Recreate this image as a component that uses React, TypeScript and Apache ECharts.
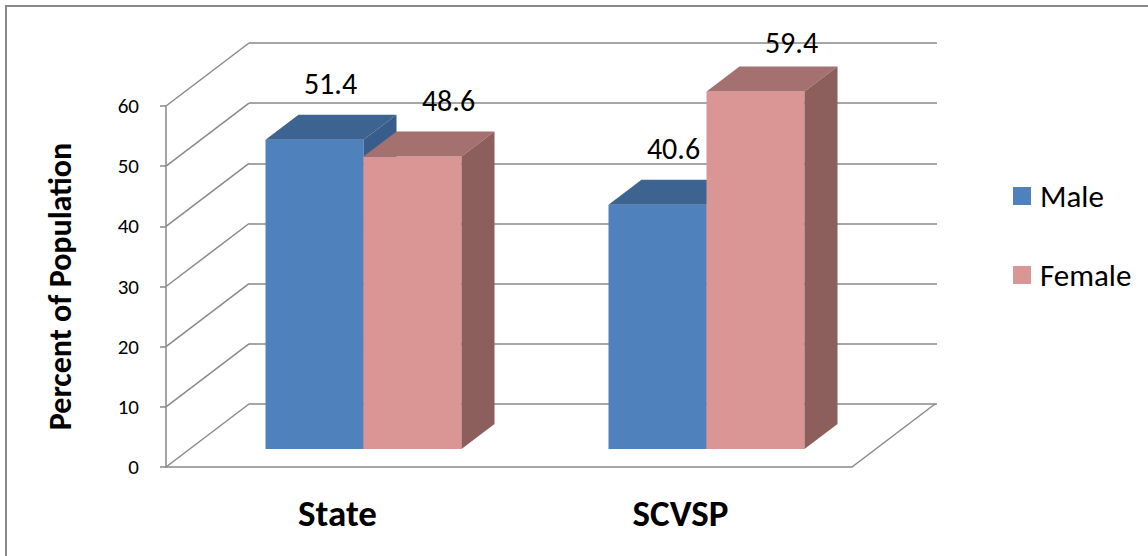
import React, { useEffect, useRef } from "react";
import * as echarts from "echarts";

const categories = ["State", "SCVSP"];
const maleValues = [51.4, 40.6];
const femaleValues = [48.6, 59.4];
const seriesNames = ["Male", "Female"];
const yMin = 0;
const yMax = 60;
const yInterval = 10;
const yTickValues = [0, 10, 20, 30, 40, 50, 60];

const FONT = "Carlito, Calibri, Lato, 'Open Sans', sans-serif";
const GRID_COLOR = "#898989";
const WALL_DEPTH = [83, -63];
const BAR_DEPTH = [33, -25];
const BAR_FRAC = 98 / 343;

const MALE = { front: "#4F81BD", top: "#3D6491", side: "#385D8A" };
const FEMALE = { front: "#D99694", top: "#A57170", side: "#8C5E5C" };

function barRenderer(side: number, colors: any, labelDx: number) {
  return (params: any, api: any) => {
    const idx = api.value(0);
    const v = api.value(1);
    const top = api.coord([idx, v]);
    const base = api.coord([idx, 0]);
    const catW = api.size([1, 0])[0];
    const bw = catW * BAR_FRAC;
    const x0 = side === 0 ? top[0] - bw : top[0];
    const x1 = x0 + bw;
    const yT = top[1];
    const yB = base[1];
    const dx = BAR_DEPTH[0];
    const dy = BAR_DEPTH[1];
    const labelY = Math.max(yT - 56, params.coordSys.y - 46);
    return {
      type: "group",
      children: [
        {
          type: "rect",
          shape: { x: x0, y: yT, width: bw, height: yB - yT },
          style: { fill: colors.front },
        },
        {
          type: "polygon",
          shape: { points: [[x0, yT], [x1, yT], [x1 + dx, yT + dy], [x0 + dx, yT + dy]] },
          style: { fill: colors.top },
        },
        {
          type: "polygon",
          shape: { points: [[x1, yT], [x1 + dx, yT + dy], [x1 + dx, yB + dy], [x1, yB]] },
          style: { fill: colors.side },
        },
        {
          type: "text",
          x: x0 + bw / 2 + labelDx,
          y: labelY,
          style: {
            text: Number(v).toFixed(1),
            fill: "#000",
            fontSize: 30,
            fontFamily: FONT,
            align: "center",
            verticalAlign: "middle",
          },
        },
      ],
    };
  };
}

function wallRenderer(params: any, api: any) {
  const v = api.value(1);
  const cs = params.coordSys;
  const y = api.coord([0, v])[1];
  const children: any[] = [
    {
      type: "line",
      shape: { x1: cs.x, y1: y, x2: cs.x + WALL_DEPTH[0], y2: y + WALL_DEPTH[1] },
      style: { stroke: GRID_COLOR, lineWidth: 1.5 },
    },
    {
      type: "text",
      x: cs.x - 27,
      y: y,
      style: {
        text: String(v),
        fill: "#000",
        fontSize: 21,
        fontFamily: FONT,
        align: "right",
        verticalAlign: "middle",
      },
    },
  ];
  if (v === 0) {
    const xr = cs.x + cs.width;
    children.push({
      type: "line",
      shape: { x1: xr, y1: y, x2: xr + WALL_DEPTH[0], y2: y + WALL_DEPTH[1] },
      style: { stroke: GRID_COLOR, lineWidth: 1.5 },
    });
  }
  return { type: "group", children };
}

export default function App() {
  const ref = useRef<HTMLDivElement>(null);
  useEffect(() => {
    if (!ref.current) return;
    const chart = echarts.init(ref.current, null, { renderer: "svg" });
    const option: any = {
      animation: false,
      backgroundColor: "#fff",
      textStyle: { fontFamily: FONT },
      graphic: [
        {
          type: "rect",
          shape: { x: 6, y: 6, width: 1160, height: 570 },
          style: { fill: "none", stroke: GRID_COLOR, lineWidth: 2 },
          silent: true,
          z: -10,
        },
      ],
      legend: {
        orient: "vertical",
        left: 1013,
        top: 180,
        padding: 0,
        itemWidth: 18,
        itemHeight: 18,
        itemGap: 47,
        icon: "rect",
        data: seriesNames,
        textStyle: { fontSize: 31, lineHeight: 32, color: "#000", fontFamily: FONT, padding: [0, 0, 0, 4] },
      },
      grid: [
        { left: 166, top: 106, width: 686, height: 361 },
        { left: 249, top: 43, width: 688, height: 361 },
        { left: 192, top: 88, width: 686, height: 361 },
      ],
      xAxis: [
        {
          gridIndex: 0,
          type: "category",
          data: categories,
          axisLine: { lineStyle: { color: GRID_COLOR, width: 1.5 } },
          axisTick: { length: 11, lineStyle: { color: GRID_COLOR, width: 1.5 } },
          axisLabel: { fontSize: 37, fontWeight: "bold", color: "#000", margin: 28, fontFamily: FONT },
        },
        { gridIndex: 1, type: "value", min: 0, max: 1, show: false },
        { gridIndex: 2, type: "category", data: categories, show: false },
      ],
      yAxis: [
        {
          gridIndex: 0,
          type: "value",
          min: yMin,
          max: yMax,
          interval: yInterval,
          name: "Percent of Population",
          nameLocation: "middle",
          nameGap: 90,
          nameTextStyle: { fontSize: 32, fontWeight: "bold", color: "#000", fontFamily: FONT },
          axisLine: { show: true, lineStyle: { color: GRID_COLOR, width: 1.5 } },
          axisTick: { show: true, length: 6, lineStyle: { color: GRID_COLOR, width: 1.5 } },
          axisLabel: { show: false },
          splitLine: { show: false },
        },
        {
          gridIndex: 1,
          type: "value",
          min: yMin,
          max: yMax,
          interval: yInterval,
          axisLine: { show: false },
          axisTick: { show: false },
          axisLabel: { show: false },
          splitLine: { show: true, lineStyle: { color: GRID_COLOR, width: 1.5 } },
        },
        {
          gridIndex: 2,
          type: "value",
          min: yMin,
          max: yMax,
          interval: yInterval,
          show: false,
          splitLine: { show: false },
        },
      ],
      series: [
        {
          type: "custom",
          name: "walls",
          xAxisIndex: 0,
          yAxisIndex: 0,
          data: yTickValues.map((v) => [0, v]),
          renderItem: wallRenderer,
          silent: true,
          z: 1,
        },
        {
          type: "custom",
          name: seriesNames[0],
          xAxisIndex: 2,
          yAxisIndex: 2,
          itemStyle: { color: MALE.front },
          data: maleValues.map((v, i) => [i, v]),
          renderItem: barRenderer(0, MALE, 16),
          z: 3,
        },
        {
          type: "custom",
          name: seriesNames[1],
          xAxisIndex: 2,
          yAxisIndex: 2,
          itemStyle: { color: FEMALE.front },
          data: femaleValues.map((v, i) => [i, v]),
          renderItem: barRenderer(1, FEMALE, 36),
          z: 4,
        },
      ],
    };
    chart.setOption(option);
    return () => chart.dispose();
  }, []);
  return (
    <div
      ref={ref}
      style={{ position: "fixed", left: 0, top: 0, width: 1148, height: 556 }}
    />
  );
}
